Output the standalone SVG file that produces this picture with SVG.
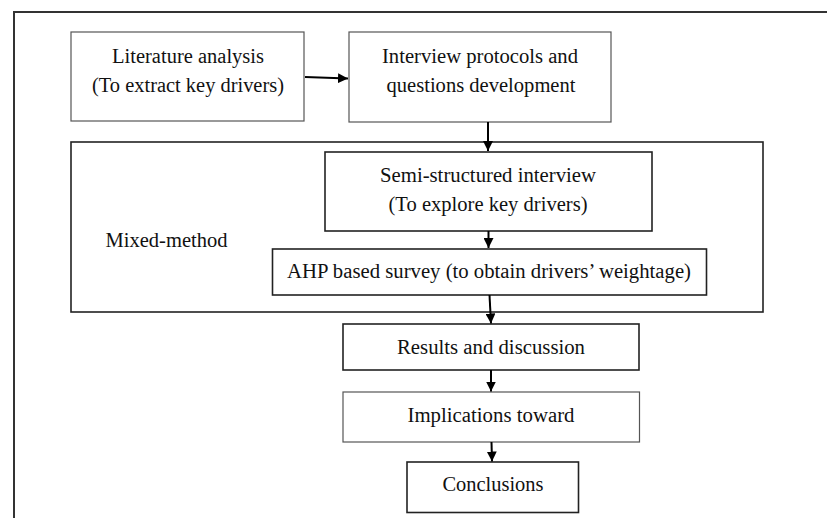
<svg xmlns="http://www.w3.org/2000/svg" width="827" height="518" viewBox="0 0 827 518">
<defs>
<style>
text{font-family:"Liberation Serif","Times New Roman",serif;font-size:20.5px;fill:#111;text-anchor:middle}
.thin{fill:#fff;stroke:#555;stroke-width:1.2}
.bold{fill:#fff;stroke:#222;stroke-width:1.6}
.frame{fill:none;stroke:#333;stroke-width:2}
.conn{stroke:#000;stroke-width:2;fill:none}
</style>
<marker id="ah" viewBox="0 0 10 10" refX="10" refY="5" markerWidth="10" markerHeight="10" markerUnits="userSpaceOnUse" orient="auto">
<path d="M0,0 L10,5 L0,10 Z" fill="#000"/>
</marker>
</defs>
<rect width="827" height="518" fill="#fff"/>
<path class="frame" d="M14,518 V12 H827"/>
<g id="mixed">
<rect class="bold" x="71" y="142" width="692" height="170"/>
<text x="166.5" y="247" textLength="122" lengthAdjust="spacingAndGlyphs">Mixed-method</text>
</g>
<g id="literature">
<rect class="thin" x="71" y="32" width="233" height="89"/>
<text x="188" y="63" textLength="152" lengthAdjust="spacingAndGlyphs">Literature analysis</text>
<text x="188" y="92" textLength="192" lengthAdjust="spacingAndGlyphs">(To extract key drivers)</text>
</g>
<g id="interview-protocols">
<rect class="thin" x="349" y="32" width="262" height="90"/>
<text x="480" y="63" textLength="196" lengthAdjust="spacingAndGlyphs">Interview protocols and</text>
<text x="481" y="92" textLength="189" lengthAdjust="spacingAndGlyphs">questions development</text>
</g>
<g id="semi-structured">
<rect class="bold" x="325" y="152" width="327" height="79"/>
<text x="488" y="182" textLength="216" lengthAdjust="spacingAndGlyphs">Semi-structured interview</text>
<text x="488" y="211" textLength="199" lengthAdjust="spacingAndGlyphs">(To explore key drivers)</text>
</g>
<g id="ahp">
<rect class="bold" x="272.5" y="249" width="434" height="46"/>
<text x="489" y="278" textLength="404" lengthAdjust="spacingAndGlyphs">AHP based survey (to obtain drivers’ weightage)</text>
</g>
<g id="results">
<rect class="bold" x="343" y="324" width="296" height="46"/>
<text x="491" y="354" textLength="188" lengthAdjust="spacingAndGlyphs">Results and discussion</text>
</g>
<g id="implications">
<rect class="thin" x="343" y="392" width="296.5" height="50"/>
<text x="491" y="421.5" textLength="167" lengthAdjust="spacingAndGlyphs">Implications toward</text>
</g>
<g id="conclusions">
<rect class="bold" x="407" y="462" width="171.5" height="50.5"/>
<text x="493" y="491" textLength="101" lengthAdjust="spacingAndGlyphs">Conclusions</text>
</g>
<g id="connectors">
<line class="conn" x1="305" y1="77" x2="348" y2="78.5" marker-end="url(#ah)"/>
<line class="conn" x1="488" y1="122" x2="488" y2="151" marker-end="url(#ah)"/>
<line class="conn" x1="488.5" y1="231" x2="488.5" y2="248" marker-end="url(#ah)"/>
<line class="conn" x1="489.5" y1="295" x2="491" y2="323.5" marker-end="url(#ah)"/>
<line class="conn" x1="491" y1="370" x2="491" y2="391.5" marker-end="url(#ah)"/>
<line class="conn" x1="491.5" y1="442" x2="492" y2="461.5" marker-end="url(#ah)"/>
</g>
</svg>
